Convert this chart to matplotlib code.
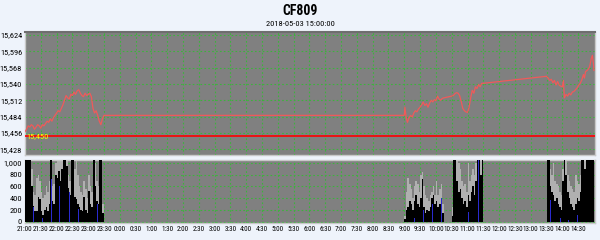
import matplotlib
matplotlib.use("Agg")
import matplotlib.pyplot as plt
from matplotlib import font_manager
from matplotlib.font_manager import FontProperties
import numpy as np

# ---------------- data ----------------
title = "CF809"
subtitle = "2018-05-03 15:00:00"
tick_labels = ["21:00", "21:30", "22:00", "22:30", "23:00", "23:30", "0:00", "0:30",
               "1:00", "1:30", "2:00", "2:30", "3:00", "3:30", "4:00", "4:30", "5:00",
               "5:30", "6:00", "6:30", "7:00", "7:30", "8:00", "8:30", "9:00", "9:30",
               "10:00", "10:30", "11:00", "11:30", "12:00", "12:30", "13:00", "13:30",
               "14:00", "14:30"]
price_yticks = [15428, 15456, 15484, 15512, 15540, 15568, 15596, 15624]
vol_yticks = [0, 200, 400, 600, 800, 1000]
ref_price = 15450

# minutes after 21:00
night_min = [0, 3, 6, 9, 12, 15, 18, 21, 24, 27, 30, 33, 36, 39, 42, 45, 48, 51, 54, 57,
             60, 63, 66, 69, 72, 75, 78, 81, 84, 87, 90, 93, 96, 99, 102, 105, 108, 111,
             114, 117, 120, 123, 126, 129, 132, 135, 138, 141, 144, 147, 150]
night_price = [15458, 15462, 15468, 15466, 15470, 15468, 15462, 15466, 15470, 15468, 15464,
               15470, 15468, 15472, 15476, 15474, 15480, 15476, 15482, 15486, 15490, 15494,
               15492, 15498, 15504, 15512, 15520, 15516, 15514, 15522, 15520, 15526, 15522,
               15528, 15530, 15524, 15520, 15518, 15524, 15520, 15522, 15524, 15518, 15498,
               15490, 15494, 15486, 15476, 15470, 15480, 15486]
day_min = [720, 721, 724, 726, 729, 732, 735, 738, 741, 744, 747, 750, 753, 756, 759, 762,
           765, 768, 771, 774, 777, 780, 783, 786, 789, 792, 795,
           810, 813, 816, 819, 822, 825, 828, 831, 834, 837, 840, 843, 846, 849, 852, 855,
           858, 861, 864, 867, 870]
day_price = [15486, 15500, 15480, 15474, 15482, 15486, 15483, 15490, 15494, 15492, 15497,
             15500, 15504, 15509, 15503, 15506, 15500, 15507, 15512, 15509, 15513, 15511,
             15519, 15514, 15512, 15515, 15516,
             15519, 15520, 15523, 15525, 15524, 15520, 15510, 15498, 15494, 15492, 15491,
             15500, 15516, 15529, 15524, 15535, 15532, 15539, 15535, 15541, 15541]
pm_min = [990, 993, 996, 999, 1002, 1005, 1008, 1011, 1014, 1017, 1020, 1022, 1024, 1027,
          1030, 1033, 1036, 1039, 1042, 1045, 1048, 1051, 1054, 1057, 1060, 1062, 1064,
          1067, 1070, 1072, 1075, 1077, 1079, 1080]
pm_price = [15553, 15550, 15546, 15548, 15542, 15546, 15538, 15544, 15538, 15536, 15535,
            15546, 15516, 15522, 15519, 15524, 15521, 15526, 15527, 15530, 15533, 15538,
            15541, 15547, 15556, 15550, 15561, 15563, 15566, 15570, 15584, 15589, 15575,
            15563]

# volume bins (3 minutes each)
night_vmin = list(range(0, 150, 3))
night_black = [1200, 1200, 1200, 1200, 600, 270, 190, 180, 430, 380, 180, 120, 200, 250,
               180, 300, 1200, 350, 300, 800, 750, 870, 700, 900, 1200, 1200, 950, 580, 450,
               1200, 1200, 420, 380, 300, 250, 200, 180, 430, 200, 150, 530, 300, 250, 1200,
               600, 350, 300, 1200, 1200, 150]
night_gray = [1200, 1200, 1200, 1200, 900, 500, 450, 750, 800, 700, 500, 400, 450, 600, 500,
              700, 1200, 600, 650, 1000, 1100, 1200, 1200, 1200, 1200, 1200, 1200, 800, 700,
              1200, 1200, 900, 1200, 800, 600, 500, 450, 700, 550, 400, 800, 600, 500, 1200,
              1000, 700, 600, 1200, 1200, 300]
am_vmin = list(range(720, 795, 3)) + list(range(810, 870, 3))
am_black = [50, 200, 250, 350, 300, 200, 350, 450, 300, 250, 400, 730, 250, 150, 200, 180,
            250, 400, 450, 300, 350, 250, 300, 400, 150,
            100, 1200, 1200, 700, 500, 550, 400, 300, 350, 250, 450, 350, 500, 600, 450, 700,
            1200, 1200, 800, 1200]
am_gray = [100, 500, 750, 650, 550, 400, 600, 700, 650, 500, 800, 850, 600, 450, 400, 350,
           450, 500, 600, 450, 700, 450, 550, 650, 300,
           250, 1200, 1200, 1200, 1000, 900, 700, 600, 650, 500, 1000, 700, 800, 900, 800,
           1000, 1200, 1200, 1100, 1200]
pm_vmin = list(range(990, 1080, 3))
pm_black = [1200, 1200, 600, 500, 450, 350, 400, 300, 250, 200, 700, 1200, 800, 500, 400,
            300, 250, 200, 300, 400, 350, 500, 1200, 1200, 900, 1200, 1200, 1200, 1200, 1200]
pm_gray = [1200, 1200, 900, 800, 1000, 700, 650, 600, 500, 450, 900, 1200, 1200, 800, 700,
           600, 550, 500, 800, 700, 650, 800, 1200, 1200, 1200, 1200, 1200, 1200, 1200, 1200]
blue_min = [16, 33, 51, 66, 84, 101, 137, 739, 757, 774, 790, 824, 842, 861, 997, 1016,
            1032, 1049, 1065]
blue_vol = [250, 60, 730, 600, 500, 220, 300, 60, 200, 310, 400, 60, 170, 1200, 370, 60,
            35, 120, 340]


# ---------------- fonts: look for a narrow face ----------------
def find_narrow(bold=False):
    prefs = ["liberation sans narrow", "roboto condensed", "open sans condensed",
             "noto sans", "dejavu sans", "lato", "roboto", "open sans", "inter"]
    best = None
    for f in font_manager.fontManager.ttflist:
        fn = f.fname.lower()
        st = str(f.stretch).lower()
        narrow = ("condensed" in fn or "narrow" in fn or "condensed" in st
                  or "narrow" in f.name.lower() or "condensed" in f.name.lower())
        if not narrow or "extra" in fn or "ultra" in fn or "semi" in fn:
            continue
        if f.style != "normal" or "italic" in fn or "oblique" in fn:
            continue
        w = f.weight if isinstance(f.weight, int) else (700 if "bold" in str(f.weight) else 400)
        if bold and w < 600:
            continue
        if not bold and w != 400:
            continue
        nm = f.name.lower()
        rank = next((i for i, p in enumerate(prefs) if nm.startswith(p)), 99)
        if best is None or rank < best[0]:
            best = (rank, f.fname)
    return best[1] if best else None


narrow_reg = find_narrow(False)
narrow_bold = find_narrow(True)
if narrow_reg:
    FP = FontProperties(fname=narrow_reg)
    XS, YS, SS = 5.1, 6.0, 6.0
else:
    FP = FontProperties(family="Liberation Sans")
    XS, YS, SS = 4.3, 5.0, 5.5
FPB = FontProperties(fname=narrow_bold) if narrow_bold else FontProperties(
    family="Liberation Sans", weight="bold")

BG = "#eef3fb"
PANEL = "#808080"
GRID = "#3cb43c"
LINE = "#f05a5a"

fig = plt.figure(figsize=(6, 2.4), dpi=100, facecolor=BG)
L, R = 25 / 600, 595 / 600
ax1 = fig.add_axes([L, 1 - 155 / 240, R - L, 123 / 240], facecolor=PANEL)
ax2 = fig.add_axes([L, 1 - 223 / 240, R - L, 63 / 240], facecolor=PANEL, sharex=ax1)

xt = np.arange(0, 30 * len(tick_labels), 30)

for ax in (ax1, ax2):
    ax.set_xlim(0, 1082)
    ax.set_xticks(xt)
    ax.grid(True, color=GRID, linestyle=(0, (1.5, 2)), linewidth=0.8)
    ax.set_axisbelow(True)
    for s in ax.spines.values():
        s.set_color("#c8c8c8")
        s.set_linewidth(1)
    ax.tick_params(axis="both", length=0, pad=2, colors="black")

# price panel
t_all = night_min + day_min + pm_min
p_all = night_price + day_price + pm_price
ax1.plot(t_all, p_all, color=LINE, linewidth=0.9, zorder=3)
ax1.axhline(ref_price, color="#ff0000", linewidth=1.2, zorder=3)
ax1.text(2, ref_price, f"{ref_price:,}", color="#ffff00", fontproperties=FP,
         fontsize=YS, va="center", ha="left", zorder=4)
ax1.set_ylim(15418, 15629)
ax1.set_yticks(price_yticks)
ax1.set_yticklabels([f"{v:,}" for v in price_yticks], fontproperties=FP, fontsize=YS)
ax1.tick_params(axis="x", labelbottom=False)
ax1.spines["top"].set_color("#6e6e6e")
ax1.spines["top"].set_linewidth(1.5)

# volume panel
vm = night_vmin + am_vmin + pm_vmin
ax2.bar(vm, night_gray + am_gray + pm_gray, width=3, align="edge", color="#b0b0b0",
        linewidth=0, zorder=2)
ax2.bar(vm, night_black + am_black + pm_black, width=3, align="edge", color="black",
        linewidth=0, zorder=3)
ax2.bar(blue_min, blue_vol, width=1.5, align="center", color="#2a2ad0", linewidth=0,
        zorder=4)
ax2.set_ylim(-20, 1050)
ax2.set_yticks(vol_yticks)
ax2.set_yticklabels([f"{v:,}" for v in vol_yticks], fontproperties=FP, fontsize=YS)
ax2.set_xticklabels(tick_labels, fontproperties=FP, fontsize=XS)
ax2.tick_params(axis="x", pad=2)

fig.text(0.5, 1 - 11 / 240, title, ha="center", va="center", fontproperties=FPB,
         fontsize=10, fontweight="bold")
fig.text(0.5, 1 - 24 / 240, subtitle, ha="center", va="center", fontproperties=FP,
         fontsize=SS)

fig.savefig("out.png", dpi=100, facecolor=BG)
